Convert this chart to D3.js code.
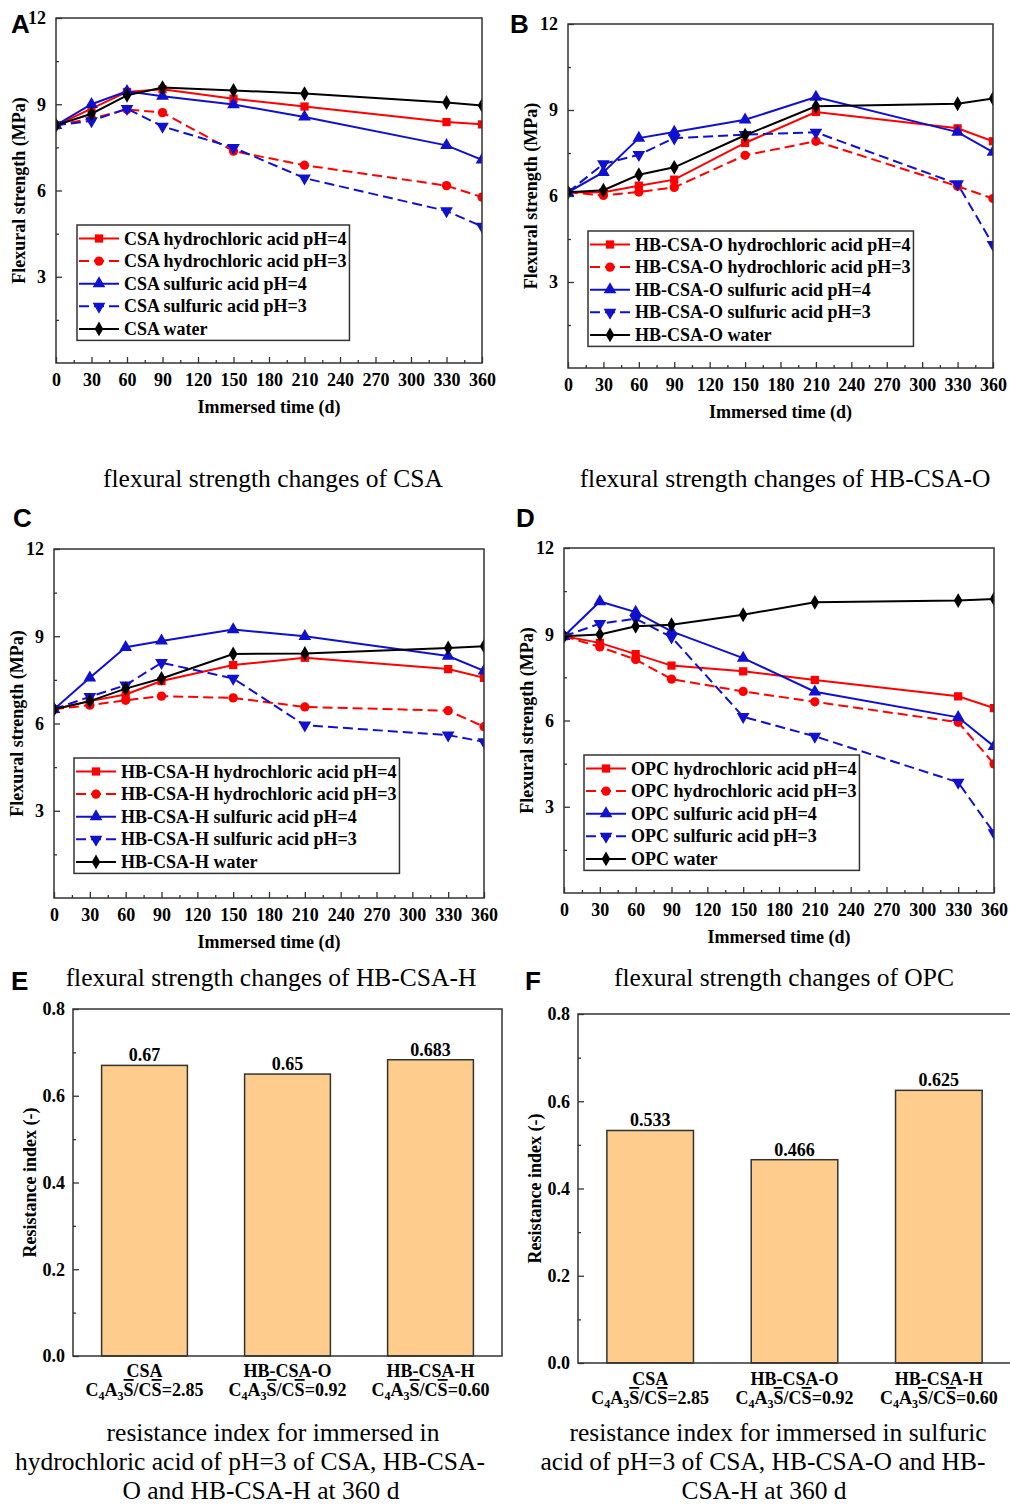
<!DOCTYPE html>
<html>
<head>
<meta charset="utf-8">
<script src="https://cdn.jsdelivr.net/npm/d3@7"></script>
<style>
  body { margin: 0; background: #fff; }
  svg { display: block; }
  text { font-family: "Liberation Serif", "Times New Roman", serif; }
  .b { font-weight: bold; }
  .letter { font-family: "Liberation Sans", Arial, sans-serif; font-weight: bold; font-size: 26px; }
  .cap { font-size: 25.5px; }
</style>
</head>
<body>
<div id="fig"></div>
<script>
// immersion days (x values of every line chart)
var days = [0, 30, 60, 90, 150, 210, 330, 360];
var xTicks = [0, 30, 60, 90, 120, 150, 180, 210, 240, 270, 300, 330, 360];

// A - CSA
var csaHcl4   = [8.27, 8.85, 9.43, 9.52, 9.19, 8.92, 8.38, 8.3];
var csaHcl3   = [8.27, 8.5, 8.82, 8.71, 7.37, 6.88, 6.17, 5.77];
var csaSul4   = [8.27, 9.0, 9.45, 9.28, 8.99, 8.56, 7.57, 7.07];
var csaSul3   = [8.27, 8.42, 8.85, 8.23, 7.49, 6.43, 5.29, 4.75];
var csaWater  = [8.27, 8.67, 9.31, 9.58, 9.48, 9.37, 9.06, 8.96];

// B - HB-CSA-O
var hboHcl4   = [6.13, 6.13, 6.36, 6.57, 7.85, 8.93, 8.36, 7.91];
var hboHcl3   = [6.13, 6.02, 6.14, 6.3, 7.42, 7.91, 6.34, 5.91];
var hboSul4   = [6.13, 6.83, 8.02, 8.23, 8.66, 9.45, 8.23, 7.53];
var hboSul3   = [6.13, 7.12, 7.44, 8.02, 8.14, 8.22, 6.42, 4.3];
var hboWater  = [6.13, 6.2, 6.74, 7.0, 8.12, 9.13, 9.22, 9.4];

// C - HB-CSA-H
var hbhHcl4   = [6.49, 6.77, 7.0, 7.46, 8.01, 8.26, 7.87, 7.57];
var hbhHcl3   = [6.49, 6.63, 6.8, 6.94, 6.88, 6.57, 6.44, 5.89];
var hbhSul4   = [6.49, 7.57, 8.62, 8.84, 9.23, 9.0, 8.32, 7.81];
var hbhSul3   = [6.49, 6.92, 7.32, 8.09, 7.55, 5.94, 5.6, 5.37];
var hbhWater  = [6.49, 6.77, 7.2, 7.55, 8.39, 8.41, 8.6, 8.66];

// D - OPC
var opcHcl4   = [8.93, 8.7, 8.31, 7.91, 7.71, 7.41, 6.84, 6.43];
var opcHcl3   = [8.93, 8.56, 8.12, 7.44, 7.01, 6.65, 5.94, 4.49];
var opcSul4   = [8.93, 10.14, 9.77, 9.1, 8.17, 7.0, 6.11, 5.1];
var opcSul3   = [8.93, 9.37, 9.54, 8.9, 6.13, 5.45, 3.85, 2.09];
var opcWater  = [8.93, 8.99, 9.28, 9.33, 9.68, 10.11, 10.17, 10.23];

var solutions = ["hydrochloric acid pH=4", "hydrochloric acid pH=3", "sulfuric acid pH=4", "sulfuric acid pH=3", "water"];

// E / F - resistance index at 360 d
var binders = ["CSA", "HB-CSA-O", "HB-CSA-H"];
var ratios = ["2.85", "0.92", "0.60"];
var hclIndex = [0.67, 0.65, 0.683];
var hclLabels = ["0.67", "0.65", "0.683"];
var sulIndex = [0.533, 0.466, 0.625];
var sulLabels = ["0.533", "0.466", "0.625"];

var svg = d3.select("#fig").append("svg")
    .attr("width", 1010)
    .attr("height", 1504);

var styles = [
    { color: "#ff0000", dash: null, sym: d3.symbolSquare, size: 68, rot: 0 },
    { color: "#ff0000", dash: "10,5", sym: d3.symbolCircle, size: 68, rot: 0 },
    { color: "#1010d0", dash: null, sym: d3.symbolTriangle, size: 70, rot: 0 },
    { color: "#1010d0", dash: "10,5", sym: d3.symbolTriangle, size: 70, rot: 180 },
    { color: "#000000", dash: null, sym: d3.symbolDiamond, size: 64, rot: 0 }
];

function styleTicks(g) {
    g.selectAll(".domain").remove();
    g.selectAll(".tick line").attr("stroke", "#333").attr("stroke-width", 1.3);
    g.selectAll(".tick text")
        .attr("class", "b")
        .style("font-family", "'Liberation Serif', serif")
        .style("font-size", "18px")
        .attr("fill", "#000");
}

function lineChart(p) {
    var x = d3.scaleLinear().domain([0, 360]).range([p.left, p.right]);
    var y = d3.scaleLinear().domain([0, 12]).range([p.bottom, p.top]);
    var g = svg.append("g");

    var clipId = "clip" + p.letter;
    g.append("clipPath").attr("id", clipId).append("rect")
        .attr("x", p.left).attr("y", p.top)
        .attr("width", p.right - p.left).attr("height", p.bottom - p.top);

    var line = d3.line().x(function (d, i) { return x(days[i]); }).y(function (d) { return y(d); });
    var plot = g.append("g").attr("clip-path", "url(#" + clipId + ")");

    p.series.forEach(function (s, k) {
        var st = styles[k];
        plot.append("path")
            .datum(s)
            .attr("d", line)
            .attr("fill", "none")
            .attr("stroke", st.color)
            .attr("stroke-width", 2)
            .attr("stroke-dasharray", st.dash);
        plot.selectAll(".m" + k)
            .data(s)
            .enter()
            .append("path")
            .attr("d", d3.symbol().type(st.sym).size(st.size))
            .attr("transform", function (d, i) { return "translate(" + x(days[i]) + "," + y(d) + ") rotate(" + st.rot + ")"; })
            .attr("fill", st.color);
    });

    // frame
    g.append("rect")
        .attr("x", p.left).attr("y", p.top)
        .attr("width", p.right - p.left).attr("height", p.bottom - p.top)
        .attr("fill", "none").attr("stroke", "#333").attr("stroke-width", 1.5);

    // ticks inside
    var xAxis = d3.axisBottom(x).tickValues(xTicks).tickSize(-6).tickPadding(10);
    g.append("g").attr("transform", "translate(0," + p.bottom + ")").call(xAxis);
    var xMinor = d3.axisBottom(x).tickValues(d3.range(15, 360, 30)).tickSize(-3).tickFormat("");
    g.append("g").attr("transform", "translate(0," + p.bottom + ")").call(xMinor);

    var yAxis = d3.axisLeft(y).tickValues([3, 6, 9, 12]).tickSize(-6).tickPadding(10);
    g.append("g").attr("transform", "translate(" + p.left + ",0)").call(yAxis);
    var yMinor = d3.axisLeft(y).tickValues([1.5, 4.5, 7.5, 10.5]).tickSize(-3).tickFormat("");
    g.append("g").attr("transform", "translate(" + p.left + ",0)").call(yMinor);
    styleTicks(g);

    g.append("text").attr("class", "b")
        .attr("x", (p.left + p.right) / 2).attr("y", p.bottom + 50)
        .attr("text-anchor", "middle").style("font-size", "18px")
        .text("Immersed time (d)");
    g.append("text").attr("class", "b")
        .attr("transform", "translate(" + (p.left - 31) + "," + ((p.top + p.bottom) / 2) + ") rotate(-90)")
        .attr("text-anchor", "middle").style("font-size", "18px")
        .text("Flexural strength (MPa)");

    // legend
    var lg = g.append("g").attr("transform", "translate(" + p.legX + "," + p.legY + ")");
    var box = lg.append("rect").attr("fill", "#fff").attr("stroke", "#333").attr("stroke-width", 1.5);
    var maxW = 0;
    solutions.forEach(function (name, k) {
        var st = styles[k];
        var ry = 13.5 + k * 22.6;
        lg.append("line").attr("x1", 2).attr("x2", 42).attr("y1", ry).attr("y2", ry)
            .attr("stroke", st.color).attr("stroke-width", 2).attr("stroke-dasharray", st.dash);
        lg.append("path").attr("d", d3.symbol().type(st.sym).size(st.size)())
            .attr("transform", "translate(22," + ry + ") rotate(" + st.rot + ")")
            .attr("fill", st.color);
        var t = lg.append("text").attr("class", "b").attr("x", 47).attr("y", ry + 6)
            .style("font-size", "18px").text(p.name + " " + name);
        maxW = Math.max(maxW, t.node().getComputedTextLength());
    });
    box.attr("x", 0).attr("y", 0).attr("width", 47 + maxW + 3).attr("height", 13.5 + 4 * 22.6 + 11.5);

    svg.append("text").attr("class", "letter").attr("x", p.letX).attr("y", p.letY).text(p.letter);
    svg.append("text").attr("class", "cap").attr("x", p.capX).attr("y", p.capY)
        .attr("text-anchor", "middle").text("flexural strength changes of " + p.name);
}

function ratioLabel(sel) {
    sel.append("tspan").text("C");
    sel.append("tspan").text("4").style("font-size", "12px").attr("dy", 4);
    sel.append("tspan").text("A").attr("dy", -4);
    sel.append("tspan").text("3").style("font-size", "12px").attr("dy", 4);
    sel.append("tspan").text("S").attr("dy", -4).style("text-decoration", "overline");
    sel.append("tspan").text("/C");
    sel.append("tspan").text("S").style("text-decoration", "overline");
}

function barChart(p) {
    var x = d3.scaleBand().domain(binders).range([p.left, p.right]).paddingInner(0.4).paddingOuter(0.2);
    var y = d3.scaleLinear().domain([0, 0.8]).range([p.bottom, p.top]);
    var g = svg.append("g");

    g.selectAll(".bar")
        .data(p.values)
        .enter()
        .append("rect")
        .attr("x", function (d, i) { return x(binders[i]); })
        .attr("y", function (d) { return y(d); })
        .attr("width", x.bandwidth())
        .attr("height", function (d) { return y(0) - y(d); })
        .attr("fill", "#fecc8c")
        .attr("stroke", "#333")
        .attr("stroke-width", 1.5);

    g.selectAll(".val")
        .data(p.values)
        .enter()
        .append("text")
        .attr("class", "b")
        .attr("x", function (d, i) { return x(binders[i]) + x.bandwidth() / 2; })
        .attr("y", function (d) { return y(d) - 4; })
        .attr("text-anchor", "middle")
        .style("font-size", "18px")
        .text(function (d, i) { return p.labels[i]; });

    g.append("rect")
        .attr("x", p.left).attr("y", p.top)
        .attr("width", p.right - p.left).attr("height", p.bottom - p.top)
        .attr("fill", "none").attr("stroke", "#333").attr("stroke-width", 1.5);

    var yAxis = d3.axisLeft(y).tickValues([0, 0.2, 0.4, 0.6, 0.8]).tickFormat(d3.format(".1f")).tickSize(-6).tickPadding(8);
    g.append("g").attr("transform", "translate(" + p.left + ",0)").call(yAxis);
    var yMinor = d3.axisLeft(y).tickValues([0.1, 0.3, 0.5, 0.7]).tickSize(-3).tickFormat("");
    g.append("g").attr("transform", "translate(" + p.left + ",0)").call(yMinor);
    styleTicks(g);

    binders.forEach(function (b, i) {
        var cx = x(b) + x.bandwidth() / 2;
        g.append("text").attr("class", "b").attr("x", cx).attr("y", p.bottom + p.lab1)
            .attr("text-anchor", "middle").style("font-size", "18px").text(b);
        var t = g.append("text").attr("class", "b").attr("x", cx).attr("y", p.bottom + p.lab2)
            .attr("text-anchor", "middle").style("font-size", "18px");
        ratioLabel(t);
        t.append("tspan").text("=" + ratios[i]);
    });

    g.append("text").attr("class", "b")
        .attr("transform", "translate(" + (p.left - 37) + "," + ((p.top + p.bottom) / 2) + ") rotate(-90)")
        .attr("text-anchor", "middle").style("font-size", "18px")
        .text("Resistance index (-)");

    svg.append("text").attr("class", "letter").attr("x", p.letX).attr("y", p.letY).text(p.letter);
    p.caption.forEach(function (c, i) {
        svg.append("text").attr("class", "cap").attr("x", c[1]).attr("y", p.capY + i * 29)
            .attr("text-anchor", "middle").text(c[0]);
    });
}

lineChart({ letter: "A", name: "CSA", left: 56, right: 482, top: 18, bottom: 363,
    series: [csaHcl4, csaHcl3, csaSul4, csaSul3, csaWater],
    legX: 77, legY: 225, letX: 11, letY: 33, capX: 273, capY: 487 });
lineChart({ letter: "B", name: "HB-CSA-O", left: 568, right: 993, top: 24, bottom: 368,
    series: [hboHcl4, hboHcl3, hboSul4, hboSul3, hboWater],
    legX: 588, legY: 231, letX: 510, letY: 33, capX: 785, capY: 487 });
lineChart({ letter: "C", name: "HB-CSA-H", left: 54, right: 484, top: 549, bottom: 898,
    series: [hbhHcl4, hbhHcl3, hbhSul4, hbhSul3, hbhWater],
    legX: 74, legY: 758, letX: 13, letY: 527, capX: 271, capY: 986 });
lineChart({ letter: "D", name: "OPC", left: 564, right: 994, top: 548, bottom: 893,
    series: [opcHcl4, opcHcl3, opcSul4, opcSul3, opcWater],
    legX: 584, legY: 755, letX: 516, letY: 527, capX: 784, capY: 986 });

barChart({ letter: "E", left: 73, right: 502, top: 1009, bottom: 1356, values: hclIndex, labels: hclLabels,
    lab1: 21, lab2: 40, letX: 11, letY: 990, capY: 1441,
    caption: [["resistance index for immersed in", 273], ["hydrochloric acid of pH=3 of CSA, HB-CSA-", 250], ["O and HB-CSA-H at 360 d", 261]] });
barChart({ letter: "F", left: 578, right: 1011, top: 1014, bottom: 1363, values: sulIndex, labels: sulLabels,
    lab1: 22, lab2: 41, letX: 525, letY: 990, capY: 1441,
    caption: [["resistance index for immersed in sulfuric", 778], ["acid of pH=3 of CSA, HB-CSA-O and HB-", 763], ["CSA-H at 360 d", 764]] });
</script>
</body>
</html>
